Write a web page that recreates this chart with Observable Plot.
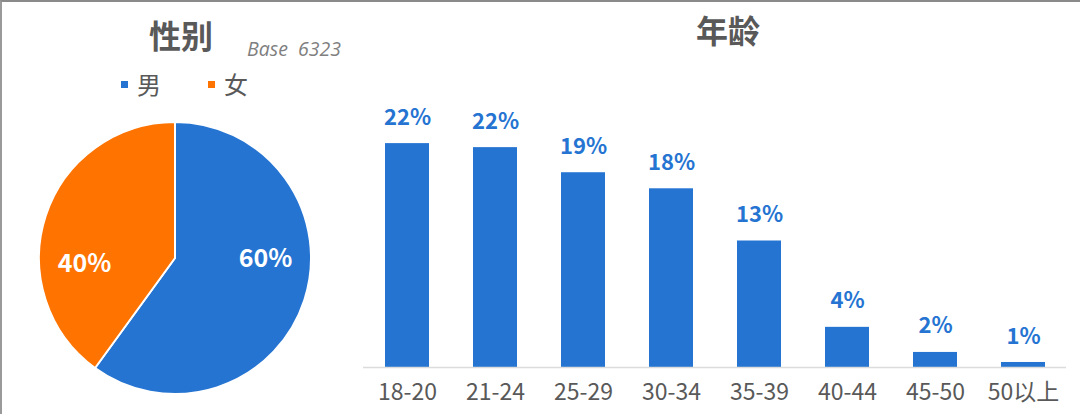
<!DOCTYPE html>
<html>
<head>
<meta charset="utf-8">
<script src="https://cdn.jsdelivr.net/npm/d3@7"></script>
<script src="https://cdn.jsdelivr.net/npm/@observablehq/plot@0.6"></script>
<style>
  html, body { margin: 0; padding: 0; background: #fff; }
  #wrap {
    position: relative; width: 1080px; height: 414px; overflow: hidden;
    background: #fff; box-sizing: border-box;
    border-top: 2px solid #8a8a8a; border-left: 2px solid #9a9a9a;
    font-family: "Noto Sans CJK SC", "Noto Sans", sans-serif;
  }
  .abs { position: absolute; white-space: nowrap; }
  .title { font-size: 32px; font-weight: bold; color: #595959; line-height: 1; }
  #base { font-size: 19.5px; font-style: italic; color: #7f7f7f; line-height: 1; word-spacing: 5px; font-family: "Open Sans", "Noto Sans", sans-serif; }
  #legend { font-size: 24px; color: #595959; line-height: 1; display: flex; align-items: center; }
  #legend .sw { display: inline-block; width: 7px; height: 7px; margin-right: 9px; }
  #legend .it { display: inline-flex; align-items: center; margin-right: 47px; }
  svg.plot-svg { background: transparent !important; }
</style>
</head>
<body>
<div id="wrap">
  <div class="abs title" id="t1" style="left:147px; top:16px;">性别</div>
  <div class="abs" id="base" style="left:245px; top:37px;">Base 6323</div>
  <div class="abs" id="legend" style="left:119px; top:70px;"></div>
  <div class="abs title" id="t2" style="left:694px; top:11px;">年龄</div>
  <div class="abs" id="pie" style="left:-2px; top:-2px;"></div>
  <div class="abs" id="bars" style="left:336px; top:86px;"></div>
</div>
<script>
// ---- data ----
const genders = ["男", "女"];
const genderShares = [60, 40];
const genderColors = ["#2574D2", "#FF7300"];

const ageGroups = ["18-20", "21-24", "25-29", "30-34", "35-39", "40-44", "45-50", "50以上"];
const ageShares = [22.3, 21.9, 19.4, 17.8, 12.6, 4.0, 1.5, 0.5];
const barColor = "#2574D2";
const fontFamily = "'Noto Sans CJK SC', 'Noto Sans', sans-serif";

// ---- legend ----
const legend = document.getElementById("legend");
genders.forEach((g, i) => {
  const it = document.createElement("span");
  it.className = "it";
  const sw = document.createElement("span");
  sw.className = "sw";
  sw.style.background = genderColors[i];
  it.appendChild(sw);
  it.appendChild(document.createTextNode(g));
  legend.appendChild(it);
});

// ---- pie ----
const genderData = genders.map((g, i) => ({gender: g, share: genderShares[i]}));
function pieMark(index, scales, values, dimensions) {
  const {width, height, marginTop, marginBottom, marginLeft, marginRight} = dimensions;
  const iw = width - marginLeft - marginRight;
  const ih = height - marginTop - marginBottom;
  const cx = marginLeft + iw / 2;
  const cy = marginTop + ih / 2;
  const r = Math.min(iw, ih) / 2;
  const arcs = d3.pie().sort(null).value(d => d.share)(genderData);
  const arc = d3.arc().innerRadius(0).outerRadius(r);
  const g = d3.create("svg:g").attr("transform", `translate(${cx},${cy})`);
  g.selectAll("path").data(arcs).join("path")
    .attr("d", arc)
    .attr("fill", d => scales.color(d.data.gender))
    .attr("stroke", "#fff")
    .attr("stroke-width", 2)
    .attr("stroke-linejoin", "round");
  const labelArc = d3.arc().innerRadius(r * 0.7).outerRadius(r * 0.7);
  g.selectAll("text").data(arcs).join("text")
    .attr("x", d => labelArc.centroid(d)[0])
    .attr("y", d => labelArc.centroid(d)[1] > 0 ? 2 : 7)
    .attr("text-anchor", "middle")
    .attr("dominant-baseline", "middle")
    .attr("fill", "#fff")
    .attr("font-weight", "bold")
    .attr("font-size", 25)
    .attr("font-family", fontFamily)
    .text(d => d.data.share + "%");
  return g.node();
}
const pie = Plot.plot({
  width: 348, height: 416,
  marginTop: 122, marginBottom: 22, marginLeft: 39, marginRight: 37,
  x: {axis: null}, y: {axis: null},
  color: {domain: genders, range: genderColors},
  style: {background: "transparent", fontFamily},
  marks: [pieMark]
});
pie.classList.add("plot-svg");
document.getElementById("pie").appendChild(pie);

// ---- bars ----
const ageData = ageGroups.map((a, i) => ({age: ageGroups[i], share: ageShares[i]}));
const bars = Plot.plot({
  width: 742, height: 326,
  marginTop: 28, marginBottom: 47, marginLeft: 29, marginRight: 17,
  x: {domain: ageGroups, paddingInner: 0.5, paddingOuter: 0.2, tickSize: 0, tickPadding: 16, label: null},
  y: {domain: [0, 25], axis: null},
  style: {background: "transparent", fontFamily, fontSize: "23px", color: "#595959"},
  marks: [
    Plot.barY(ageData, {x: "age", y: "share", fill: barColor}),
    Plot.ruleY([0], {stroke: "#dcdcdc", strokeWidth: 1.5, insetLeft: -4, insetRight: -3}),
    Plot.text(ageData, {
      x: "age", y: "share", dy: -26,
      text: d => Math.round(d.share) + "%",
      fill: barColor, fontWeight: "bold", fontSize: 22
    })
  ]
});
bars.classList.add("plot-svg");
document.getElementById("bars").appendChild(bars);
</script>
</body>
</html>
